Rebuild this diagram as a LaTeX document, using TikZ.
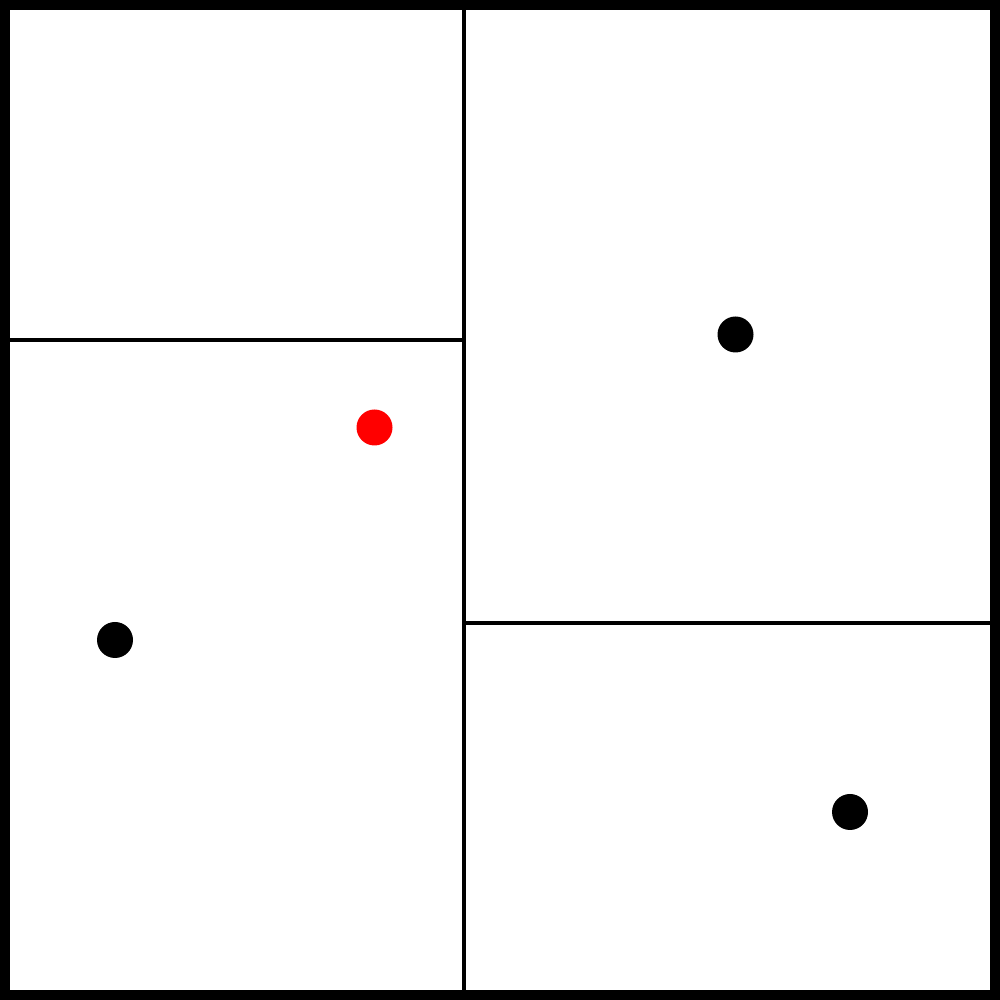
\documentclass[tikz,border=0pt]{standalone}
\usepackage{xcolor}
\definecolor{pRed}{HTML}{FF0000}
\usepackage{tikz}
\usetikzlibrary{calc}

\begin{document}
\begin{tikzpicture}
\pgfmathsetmacro{\splitX}{4.635}
\pgfmathsetmacro{\dotR}{0.18}
\useasboundingbox (0,0) rectangle (10,10);

\draw[line width=0.04cm] (\splitX,0) -- (\splitX,10);
\draw[line width=0.04cm] (0,6.6) -- (\splitX,6.6);
\draw[line width=0.04cm] (\splitX,3.77) -- (10,3.77);
\draw[line width=0.1cm] (0.05,0.05) rectangle (9.95,9.95);

\fill[pRed] (3.745,5.725) circle (\dotR);
\fill[black] (1.15,3.6) circle (\dotR);
\fill[black] (7.355,6.655) circle (\dotR);
\fill[black] (8.5,1.88) circle (\dotR);
\end{tikzpicture}
\end{document}
